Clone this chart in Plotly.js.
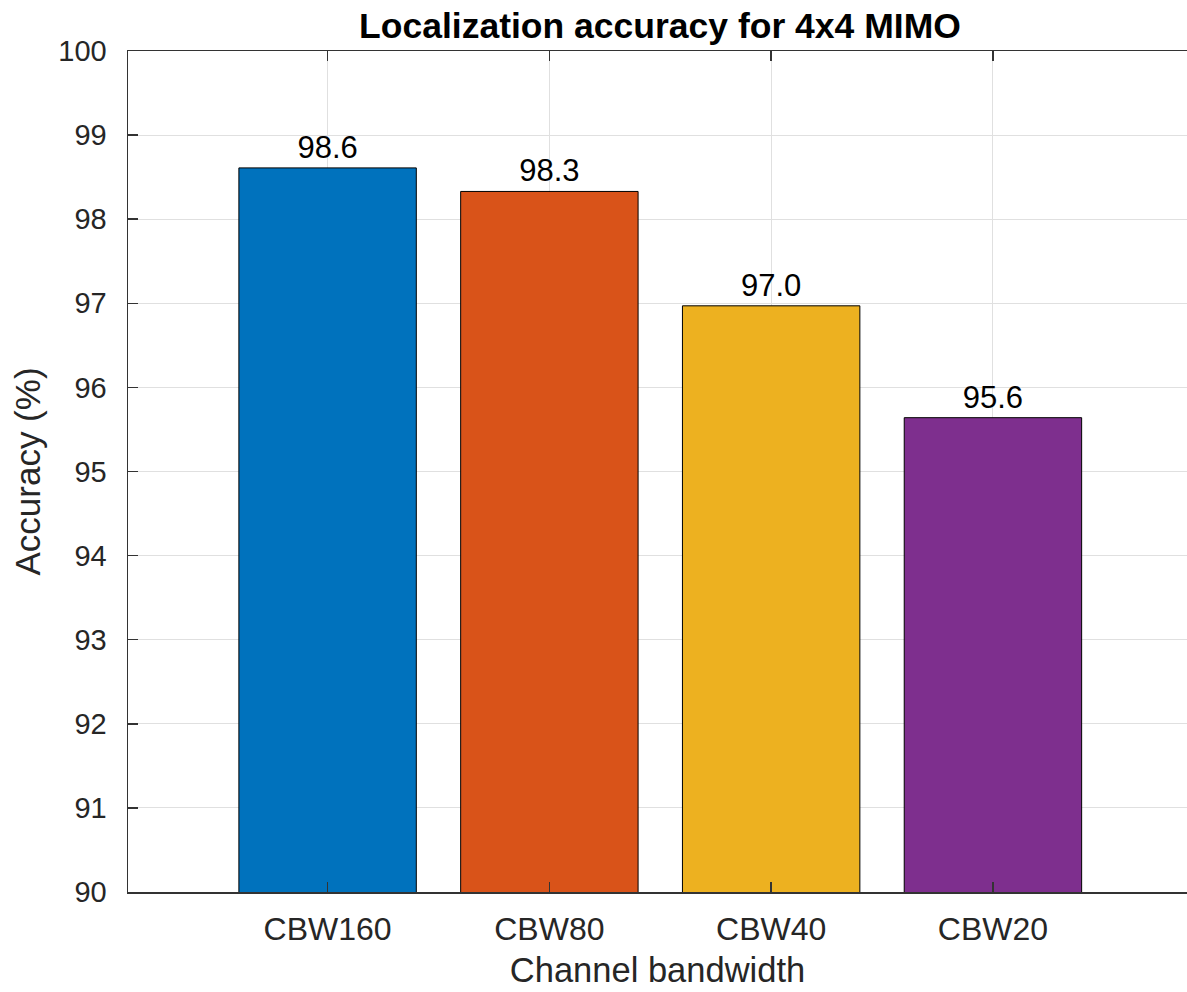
<!DOCTYPE html>
<html>
<head>
<meta charset="utf-8">
<script src="https://cdn.plot.ly/plotly-3.0.1.min.js"></script>
<style>html,body{margin:0;padding:0;overflow:hidden;background:#fff;}#chart{width:1187px;height:992px;}</style>
</head>
<body>
<div id="chart"></div>
<script>
const categories = ["CBW160", "CBW80", "CBW40", "CBW20"];
const accuracy = [98.61, 98.33, 96.97, 95.64];
const barColors = ["#0072BD", "#D95319", "#EDB120", "#7E2F8E"];
const yTicks = [90, 91, 92, 93, 94, 95, 96, 97, 98, 99, 100];

const FONT = "Liberation Sans, Arial, sans-serif";

const trace = {
  type: "bar",
  x: categories,
  y: accuracy,
  width: 0.8,
  marker: { color: barColors, line: { color: "#000000", width: 1 } },
  text: accuracy.map(v => v.toFixed(1)),
  textposition: "outside",
  textfont: { family: FONT, size: 31, color: "#000000" },
  cliponaxis: false,
  hoverinfo: "skip"
};

const layout = {
  width: 1187,
  height: 992,
  margin: { l: 128, r: 0, t: 51, b: 100, pad: 0 },
  paper_bgcolor: "#ffffff",
  plot_bgcolor: "#ffffff",
  showlegend: false,
  bargap: 0.2,
  title: {
    text: "<b>Localization accuracy for 4x4 MIMO</b>",
    font: { family: FONT, size: 35.5, color: "#000000" },
    xref: "container", x: 0.556, xanchor: "center",
    yref: "container", y: 0.974, yanchor: "middle"
  },
  xaxis: {
    type: "category",
    range: [-0.9, 3.875],
    showline: true, linecolor: "#333333", linewidth: 1.5,
    mirror: "ticks",
    ticks: "inside", ticklen: 10, tickcolor: "#333333", tickwidth: 1.5,
    showgrid: true, gridcolor: "#e0e0e0", gridwidth: 1,
    tickfont: { family: FONT, size: 32, color: "#262626" },
    ticklabelstandoff: 8,
    title: { text: "Channel bandwidth", font: { family: FONT, size: 34.5, color: "#262626" }, standoff: 12 },
    zeroline: false,
    fixedrange: true
  },
  yaxis: {
    range: [90, 100],
    tickvals: yTicks,
    ticktext: yTicks.map(String),
    showline: true, linecolor: "#333333", linewidth: 1.5,
    mirror: false,
    ticks: "inside", ticklen: 10, tickcolor: "#333333", tickwidth: 1.5,
    showgrid: true, gridcolor: "#e0e0e0", gridwidth: 1,
    tickfont: { family: FONT, size: 29, color: "#262626" },
    ticklabelstandoff: 14,
    title: { text: "Accuracy (%)", font: { family: FONT, size: 35, color: "#262626" }, standoff: 7 },
    zeroline: false,
    fixedrange: true
  }
};

Plotly.newPlot("chart", [trace], layout, { displayModeBar: false, staticPlot: true });
</script>
</body>
</html>
